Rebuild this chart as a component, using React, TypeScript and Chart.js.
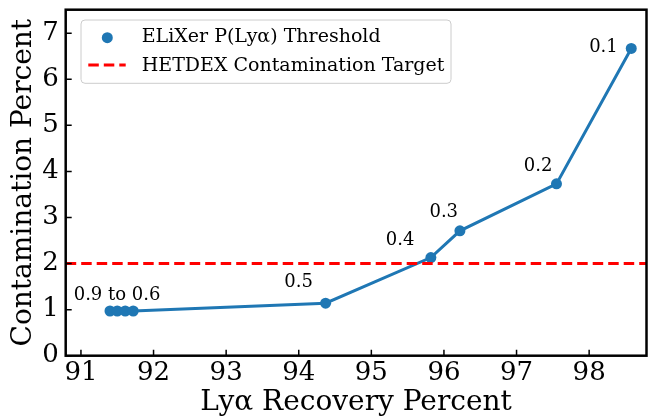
import React, { useEffect, useRef } from "react";
import { Chart, registerables } from "chart.js";

Chart.register(...registerables);

// ---- data ----
const recovery = [91.4, 91.5, 91.61, 91.72, 94.37, 95.82, 96.22, 97.55, 98.58];
const contamination = [0.97, 0.97, 0.97, 0.97, 1.14, 2.13, 2.71, 3.73, 6.67];
const targetContamination = 2;
const xTicks = [91, 92, 93, 94, 95, 96, 97, 98];
const yTicks = [0, 1, 2, 3, 4, 5, 6, 7];
const xRange = [90.79, 98.79];
const yRange = [0, 7.51];
const annoText = ["0.9 to 0.6", "0.5", "0.4", "0.3", "0.2", "0.1"];
const annoX = [90.9, 93.8, 95.2, 95.8, 97.1, 98.0];
const annoY = [1.2, 1.5, 2.4, 3.0, 4.0, 6.6];
const legendLabels = ["ELiXer P(Lyα) Threshold", "HETDEX Contamination Target"];
const xTitle = "Lyα Recovery Percent";
const yTitle = "Contamination Percent";

const BLUE = "#1f77b4";
const RED = "#ff0000";
const SERIF = "'DejaVu Serif', serif";

export default function App() {
  const ref = useRef<HTMLCanvasElement>(null);

  useEffect(() => {
    document.body.style.margin = "0";
    const canvas = ref.current;
    if (!canvas) return;

    const framePlugin = {
      id: "frame",
      afterDatasetsDraw(chart: any) {
        const { ctx, scales } = chart;
        ctx.save();
        ctx.fillStyle = "#000";
        ctx.font = `18px ${SERIF}`;
        ctx.textAlign = "left";
        ctx.textBaseline = "alphabetic";
        annoText.forEach((t, i) => {
          ctx.fillText(t, scales.x.getPixelForValue(annoX[i]), scales.y.getPixelForValue(annoY[i]));
        });
        ctx.restore();
      },
      afterDraw(chart: any) {
        const { ctx, chartArea: a, scales } = chart;
        ctx.save();
        // ticks (inward)
        ctx.strokeStyle = "#000";
        ctx.lineWidth = 1.5;
        ctx.beginPath();
        xTicks.forEach((v) => {
          const px = scales.x.getPixelForValue(v);
          ctx.moveTo(px, a.bottom);
          ctx.lineTo(px, a.bottom - 6);
        });
        yTicks.forEach((v) => {
          const py = scales.y.getPixelForValue(v);
          ctx.moveTo(a.left, py);
          ctx.lineTo(a.left + 6, py);
        });
        ctx.stroke();
        // spines
        ctx.lineWidth = 2.5;
        ctx.strokeRect(a.left, a.top, a.right - a.left, a.bottom - a.top);

        // legend
        const lx = a.left + 15.3;
        const ly = a.top + 10.3;
        const lw = 370;
        const lh = 63.3;
        ctx.beginPath();
        if ((ctx as any).roundRect) (ctx as any).roundRect(lx, ly, lw, lh, 4);
        else ctx.rect(lx, ly, lw, lh);
        ctx.fillStyle = "rgba(255,255,255,0.8)";
        ctx.fill();
        ctx.strokeStyle = "#cccccc";
        ctx.lineWidth = 1;
        ctx.stroke();

        ctx.fillStyle = BLUE;
        ctx.beginPath();
        ctx.arc(lx + 26.3, ly + 17.7, 5.5, 0, Math.PI * 2);
        ctx.fill();

        ctx.strokeStyle = RED;
        ctx.lineWidth = 3;
        ctx.setLineDash([10.5, 5]);
        ctx.beginPath();
        ctx.moveTo(lx + 7.3, ly + 45);
        ctx.lineTo(lx + 44.7, ly + 45);
        ctx.stroke();
        ctx.setLineDash([]);

        ctx.fillStyle = "#000";
        ctx.font = `19px ${SERIF}`;
        ctx.textAlign = "left";
        ctx.textBaseline = "alphabetic";
        ctx.fillText(legendLabels[0], lx + 60.7, ly + 21.7);
        ctx.fillText(legendLabels[1], lx + 60.7, ly + 50.7);
        ctx.restore();
      },
    };

    const chart = new Chart(canvas, {
      type: "line",
      data: {
        datasets: [
          {
            label: legendLabels[1],
            data: [
              { x: xRange[0], y: targetContamination },
              { x: xRange[1], y: targetContamination },
            ],
            borderColor: RED,
            borderWidth: 3,
            borderDash: [10.5, 5],
            pointRadius: 0,
            fill: false,
          } as any,
          {
            label: legendLabels[0],
            data: recovery.map((x, i) => ({ x, y: contamination[i] })),
            borderColor: BLUE,
            backgroundColor: BLUE,
            borderWidth: 3,
            pointRadius: 5.5,
            pointBorderWidth: 0,
            pointBackgroundColor: BLUE,
            fill: false,
            tension: 0,
          } as any,
        ],
      },
      options: {
        responsive: false,
        animation: false,
        layout: { padding: { top: 9.7, right: 1.3, left: 0, bottom: 0 } },
        plugins: { legend: { display: false }, tooltip: { enabled: false } },
        scales: {
          x: {
            type: "linear",
            min: xRange[0],
            max: xRange[1],
            afterFit(s: any) {
              s.height = 61.3;
              s.paddingLeft = 0;
              s.paddingRight = 0;
            },
            afterBuildTicks(s: any) {
              s.ticks = xTicks.map((v) => ({ value: v }));
            },
            grid: { display: false, drawTicks: false },
            border: { display: false },
            ticks: {
              font: { family: SERIF, size: 26 },
              color: "#000",
              padding: 2,
              maxRotation: 0,
              autoSkip: false,
            },
            title: {
              display: true,
              text: xTitle,
              color: "#000",
              font: { family: SERIF, size: 28, lineHeight: 1 },
              padding: 0,
            },
          },
          y: {
            type: "linear",
            min: yRange[0],
            max: yRange[1],
            afterFit(s: any) {
              s.width = 65.7;
              s.paddingTop = 0;
              s.paddingBottom = 0;
            },
            afterBuildTicks(s: any) {
              s.ticks = yTicks.map((v) => ({ value: v }));
            },
            grid: { display: false, drawTicks: false },
            border: { display: false },
            ticks: {
              font: { family: SERIF, size: 26 },
              color: "#000",
              padding: 7,
              autoSkip: false,
            },
            title: {
              display: true,
              text: yTitle,
              color: "#000",
              font: { family: SERIF, size: 28, lineHeight: 1 },
              padding: { top: 9.6, bottom: 0 },
            },
          },
        },
      } as any,
      plugins: [framePlugin],
    });

    return () => chart.destroy();
  }, []);

  return <canvas ref={ref} width={652} height={417} style={{ display: "block" }} />;
}
